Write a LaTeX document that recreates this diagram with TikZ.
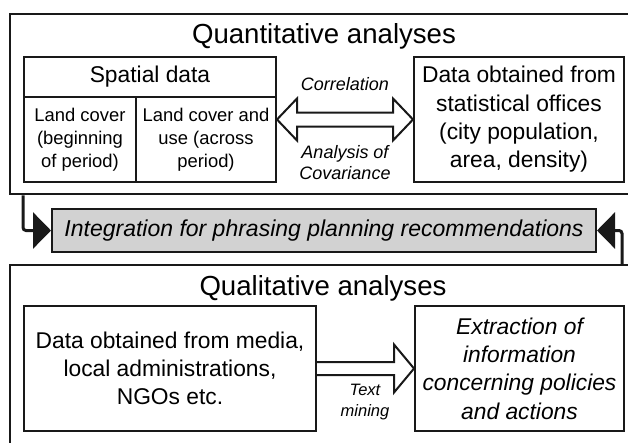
\documentclass[tikz,border=0pt]{standalone}
\usepackage{fontspec}
\setmainfont{Liberation Sans}
\usetikzlibrary{arrows.meta,calc}

\begin{document}
\begin{tikzpicture}[x=1pt,y=-1pt,
 outer/.style={draw=black!90,line width=2.6pt,inner sep=0pt},
 box/.style={draw=black!90,line width=2pt,inner sep=0pt,align=center,font=\fontsize{22.8}{28.3}\selectfont},
 title/.style={anchor=base,inner sep=0pt,font=\fontsize{27.6}{33}\selectfont},
 small/.style={inner sep=0pt,align=center,font=\fontsize{18.4}{23}\selectfont},
 lbl/.style={inner sep=0pt,align=center,font=\itshape\fontsize{18}{21}\selectfont},
 fat/.style={draw=black!90,line width=2pt,line join=miter,fill=white},
 link/.style={draw=black!90,line width=3pt,rounded corners=3pt,-{Triangle[length=18pt,width=36pt]}}]
 \useasboundingbox (0,0) rectangle (628,442); %全体
 \clip (0,0) rectangle (628,442); %はみ出し部分を切る
 \node[outer,minimum width=628pt,minimum height=180pt] (quan) at (324,104) {}; %量的分析の枠
 \node[title] (quant) at (324,43) {Quantitative analyses}; %見出し
 \node[box,minimum width=252pt,minimum height=125pt] (sp) at (150,119.5) {}; %空間データの枠
 \draw[draw=black!90,line width=2pt] (sp.west |- 0,97) -- (sp.east |- 0,97); %見出し行の区切り
 \draw[draw=black!90,line width=2pt] (136,97) -- (sp.south -| 136,0); %列の区切り
 \node[inner sep=0pt,font=\fontsize{22.8}{28.3}\selectfont] (sph) at (150,77) {Spatial data}; %見出し
 \node[small] (lc1) at (80,139.5) {Land cover\\(beginning\\of period)}; %左の列
 \node[small] (lc2) at (206,139.5) {Land cover and\\use (across\\period)}; %右の列
 \node[box,minimum width=210pt,minimum height=125pt] (st) at (519,119.5) {Data obtained from\\statistical offices\\(city population,\\area, density)}; %統計データ
 \draw[fat] (sp.east) -- ++(20,-21) -- ++(0,14) -- ($(st.west)+(-20,-7)$) -- ++(0,-14) -- (st.west) -- ++(-20,21) -- ++(0,-14) -- ($(sp.east)+(20,7)$) -- ++(0,14) -- cycle; %両向きの矢印
 \node[lbl] (cor) at (345,84) {Correlation}; %上のラベル
 \node[lbl] (anc) at (345,163) {Analysis of\\Covariance}; %下のラベル
 \node[box,fill=gray!35,minimum width=544pt,minimum height=43pt,font=\itshape\fontsize{23}{28}\selectfont] (integ) at (324,230.5) {Integration for phrasing planning recommendations}; %統合
 \node[outer,minimum width=628pt,minimum height=220pt] (qual) at (324,375) {}; %質的分析の枠
 \node[title] (qualt) at (323,295) {Qualitative analyses}; %見出し
 \node[box,minimum width=292pt,minimum height=125pt] (md) at (170,368.5) {Data obtained from media,\\local administrations,\\NGOs etc.}; %メディア等
 \node[box,minimum width=209pt,minimum height=125pt,font=\itshape\fontsize{22.8}{28.3}\selectfont] (ex) at (519.5,368.5) {Extraction of\\information\\concerning policies\\and actions}; %抽出
 \draw[fat] ($(md.east)+(0,-6.5)$) -- ($(ex.west)+(-20,-6.5)$) -- ++(0,-17.5) -- (ex.west) -- ++(-20,24) -- ++(0,-17.5) -- ($(md.east)+(0,6.5)$); %片向きの矢印
 \node[lbl,font=\itshape\fontsize{16.5}{21}\selectfont] (tm) at (365,402) {Text\\mining}; %ラベル
 \coordinate (ql) at (sp.west |- quan.south); %左の線の始点
 \coordinate (qr) at (622,265); %右の線の始点
 \draw[link] (ql) |- (integ.west); %左の矢印
 \draw[link] (qr) |- (integ.east); %右の矢印
\end{tikzpicture}
\end{document}
